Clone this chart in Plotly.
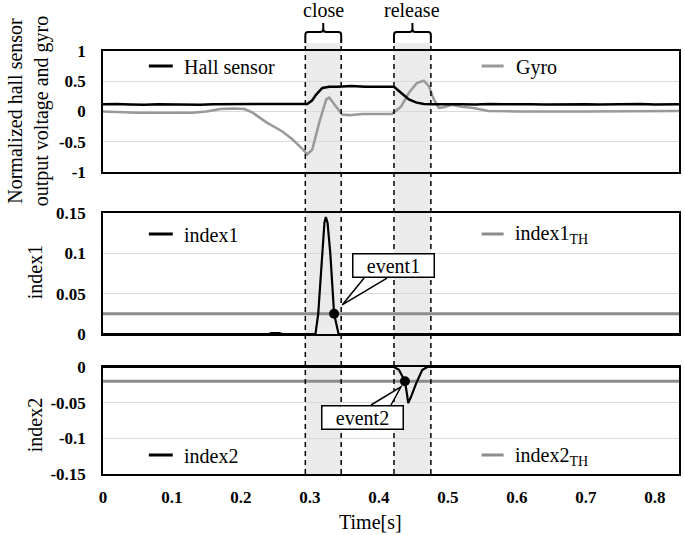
import plotly.graph_objects as go

# ---------------- data ----------------
hall_t = [0.00, 0.02, 0.04, 0.06, 0.08, 0.10, 0.12, 0.14, 0.16, 0.18, 0.20, 0.22, 0.24, 0.26, 0.28,
          0.296, 0.303, 0.309, 0.318, 0.328, 0.34, 0.36, 0.38, 0.40,
          0.4218, 0.432, 0.4435, 0.4536, 0.465,
          0.48, 0.50, 0.52, 0.54, 0.56, 0.58, 0.60, 0.62, 0.64, 0.66, 0.68, 0.70, 0.72, 0.74, 0.76, 0.78, 0.80, 0.82,
          0.835]
hall_v = [0.12, 0.125, 0.115, 0.11, 0.12, 0.115, 0.12, 0.11, 0.12, 0.12, 0.115, 0.12, 0.12, 0.115, 0.12,
          0.125, 0.18, 0.28, 0.39, 0.41, 0.41, 0.42, 0.41, 0.41,
          0.41, 0.31, 0.20, 0.15, 0.125,
          0.12, 0.125, 0.12, 0.115, 0.125, 0.12, 0.125, 0.12, 0.115, 0.12, 0.125, 0.12, 0.115, 0.12, 0.12, 0.125, 0.115, 0.12,
          0.12]

gyro_t = [0.0, 0.02, 0.05, 0.10, 0.13, 0.15, 0.17, 0.19, 0.205, 0.217, 0.237, 0.260, 0.2745, 0.2875,
          0.296, 0.3034, 0.3135, 0.3236, 0.328, 0.338, 0.3467, 0.3568, 0.3756, 0.419, 0.432, 0.4435,
          0.455, 0.465, 0.4724, 0.4796, 0.4868, 0.494, 0.5056, 0.52, 0.5345, 0.559, 0.60, 0.70, 0.80, 0.835]
gyro_v = [0.0, -0.01, -0.02, -0.02, -0.02, 0.0, 0.04, 0.05, 0.04, -0.02, -0.18, -0.33, -0.46, -0.60,
          -0.71, -0.63, -0.18, 0.20, 0.23, 0.08, -0.05, -0.06, -0.04, -0.04, 0.08, 0.31,
          0.47, 0.51, 0.42, 0.20, 0.06, 0.07, 0.11, 0.08, 0.06, 0.01, 0.0, 0.0, 0.01, 0.01]

index1_t = [0, 0.24, 0.244, 0.25, 0.256, 0.26, 0.308, 0.312, 0.3175, 0.321, 0.323, 0.3255, 0.3295, 0.335, 0.3415, 0.835]
index1_v = [0, 0, 0.0012, 0.0015, 0.001, 0, 0, 0.025, 0.1, 0.138, 0.145, 0.138, 0.1, 0.025, 0, 0]
index1_th = 0.025
event1 = (0.335, 0.025)

index2_t = [0, 0.4218, 0.429, 0.434, 0.4377, 0.4405, 0.4425, 0.4465, 0.454, 0.4627, 0.47, 0.835]
index2_v = [0, 0, -0.004, -0.0126, -0.02, -0.037, -0.0505, -0.042, -0.0229, -0.0042, 0, 0]
index2_th = -0.02
event2 = (0.4377, -0.02)

close_span = [0.2933, 0.3453]
release_span = [0.4218, 0.4753]

x_ticks = [0, 0.1, 0.2, 0.3, 0.4, 0.5, 0.6, 0.7, 0.8]
x_ticktext = ["0", "0.1", "0.2", "0.3", "0.4", "0.5", "0.6", "0.7", "0.8"]
y1_ticks = [-1, -0.5, 0, 0.5, 1]
y1_ticktext = ["-1", "-0.5", "0", "0.5", "1"]
y2_ticks = [0, 0.05, 0.1, 0.15]
y2_ticktext = ["0", "0.05", "0.1", "0.15"]
y3_ticks = [-0.15, -0.1, -0.05, 0]
y3_ticktext = ["-0.15", "-0.1", "-0.05", "0"]

# ---------------- style ----------------
FONT = "Liberation Serif, Times New Roman, DejaVu Serif, serif"
BLACK = "#000000"
GRAY = "#8c8c8c"
XMAX = 0.835

fig = go.Figure()

# panel 1
fig.add_trace(go.Scatter(x=gyro_t, y=gyro_v, mode="lines", line=dict(color="#999999", width=2.5),
                         xaxis="x", yaxis="y", showlegend=False))
fig.add_trace(go.Scatter(x=hall_t, y=hall_v, mode="lines", line=dict(color=BLACK, width=2.5),
                         xaxis="x", yaxis="y", showlegend=False))
# panel 2
fig.add_trace(go.Scatter(x=[index1_t[0], index1_t[-1]], y=[index1_th, index1_th], mode="lines",
                         line=dict(color=GRAY, width=3), xaxis="x2", yaxis="y2", showlegend=False))
fig.add_trace(go.Scatter(x=index1_t, y=index1_v, mode="lines", line=dict(color=BLACK, width=2.2),
                         xaxis="x2", yaxis="y2", showlegend=False, cliponaxis=False))
fig.add_trace(go.Scatter(x=[event1[0]], y=[event1[1]], mode="markers",
                         marker=dict(color=BLACK, size=10), xaxis="x2", yaxis="y2", showlegend=False))
# panel 3
fig.add_trace(go.Scatter(x=[index2_t[0], index2_t[-1]], y=[index2_th, index2_th], mode="lines",
                         line=dict(color=GRAY, width=3), xaxis="x3", yaxis="y3", showlegend=False))
fig.add_trace(go.Scatter(x=index2_t, y=index2_v, mode="lines", line=dict(color=BLACK, width=2.2),
                         xaxis="x3", yaxis="y3", showlegend=False, cliponaxis=False))
fig.add_trace(go.Scatter(x=[event2[0]], y=[event2[1]], mode="markers",
                         marker=dict(color=BLACK, size=10), xaxis="x3", yaxis="y3", showlegend=False))

tickfont = dict(family=FONT, size=17, color=BLACK, weight="bold")
common_x = dict(range=[0, XMAX], showgrid=False, zeroline=False, showline=True, linecolor=BLACK,
                linewidth=1.5, mirror=True, ticks="", domain=[0, 1])
common_y = dict(showgrid=True, gridcolor="#d9d9d9", gridwidth=1, zeroline=False, showline=True,
                linecolor=BLACK, linewidth=1.5, mirror=True, ticks="", tickfont=tickfont,
                ticklabelstandoff=12)

fig.update_layout(
    width=685, height=535,
    margin=dict(l=103, r=4, t=51, b=61),
    paper_bgcolor="white", plot_bgcolor="rgba(0,0,0,0)",
    font=dict(family=FONT, color=BLACK, size=20),
    hovermode=False,
    xaxis=dict(common_x, anchor="y", showticklabels=False),
    xaxis2=dict(common_x, anchor="y2", matches="x", showticklabels=False),
    xaxis3=dict(common_x, anchor="y3", matches="x", tickvals=x_ticks, ticktext=x_ticktext,
                tickfont=tickfont, ticklabelstandoff=7),
    yaxis=dict(common_y, domain=[0.714, 1.0], range=[-1, 1], tickvals=y1_ticks, ticktext=y1_ticktext),
    yaxis2=dict(common_y, domain=[0.331, 0.617], range=[0, 0.15], tickvals=y2_ticks, ticktext=y2_ticktext),
    yaxis3=dict(common_y, domain=[0, 0.253], range=[-0.15, 0], tickvals=y3_ticks, ticktext=y3_ticktext),
)

shapes = []
Y_BR_BOT = 1.0189
Y_BR_TOP = 1.0449
Y_BR_TIP = 1.0662
for span in (close_span, release_span):
    x0, x1 = span
    shapes.append(dict(type="rect", xref="x", yref="paper", x0=x0, x1=x1, y0=0, y1=Y_BR_BOT,
                       fillcolor="#ebebeb", line=dict(width=0), layer="below"))
    for xv in span:
        shapes.append(dict(type="line", xref="x", yref="paper", x0=xv, x1=xv, y0=0, y1=Y_BR_BOT,
                           line=dict(color=BLACK, width=1.5, dash="5px,4px"), layer="above"))
    xc = (x0 + x1) / 2
    dx = 0.004
    dy = 0.007
    path = (f"M {x0},{Y_BR_BOT} L {x0},{Y_BR_TOP - dy} Q {x0},{Y_BR_TOP} {x0 + dx},{Y_BR_TOP} "
            f"L {xc - dx},{Y_BR_TOP} Q {xc},{Y_BR_TOP} {xc},{Y_BR_TOP + dy} L {xc},{Y_BR_TIP} "
            f"M {xc},{Y_BR_TOP + dy} Q {xc},{Y_BR_TOP} {xc + dx},{Y_BR_TOP} "
            f"L {x1 - dx},{Y_BR_TOP} Q {x1},{Y_BR_TOP} {x1},{Y_BR_TOP - dy} L {x1},{Y_BR_BOT}")
    shapes.append(dict(type="path", xref="x", yref="paper", path=path,
                       line=dict(color=BLACK, width=2)))

# callout wedges
shapes.append(dict(type="path", xref="x2", yref="y2",
                   path="M 0.3785,0.0694 L 0.3467,0.036 L 0.4117,0.0694",
                   fillcolor="white", line=dict(color=BLACK, width=1.5)))
shapes.append(dict(type="path", xref="x3", yref="y3",
                   path="M 0.3886,-0.0533 L 0.4319,-0.028 L 0.4175,-0.0533",
                   fillcolor="white", line=dict(color=BLACK, width=1.5)))

def px2paper_x(px):
    return (px - 103) / 578

def px2paper_y(py):
    return (474 - py) / 423

legend_items = [
    ("Hall sensor", BLACK, 149, 173, 182, 66),
    ("Gyro", "#999999", 483, 505, 515, 66),
    ("index1", BLACK, 149, 173, 182, 234),
    ("index1<sub>TH</sub>", GRAY, 483, 505, 514, 234),
    ("index2", BLACK, 149, 173, 182, 455),
    ("index2<sub>TH</sub>", GRAY, 483, 505, 514, 455),
]
annotations = []
for text, col, lx0, lx1, tx, ly in legend_items:
    shapes.append(dict(type="line", xref="paper", yref="paper", x0=px2paper_x(lx0), x1=px2paper_x(lx1),
                       y0=px2paper_y(ly), y1=px2paper_y(ly), line=dict(color=col, width=3)))
    annotations.append(dict(text=text, xref="paper", yref="paper", x=px2paper_x(tx), y=px2paper_y(ly + 1),
                            xanchor="left", yanchor="middle", showarrow=False,
                            font=dict(family=FONT, size=20, color=BLACK)))

annotations.append(dict(text="close", xref="x", yref="paper", x=sum(close_span) / 2, y=1.097,
                        showarrow=False, xanchor="center", yanchor="middle", font=dict(family=FONT, size=20)))
annotations.append(dict(text="release", xref="x", yref="paper", x=sum(release_span) / 2, y=1.097,
                        showarrow=False, xanchor="center", yanchor="middle", font=dict(family=FONT, size=20)))

annotations.append(dict(text="event1", xref="x2", yref="y2", x=0.4218, y=0.0849, showarrow=False,
                        bgcolor="white", bordercolor=BLACK, borderwidth=1.5, borderpad=0,
                        width=80, height=22, font=dict(family=FONT, size=20)))
annotations.append(dict(text="event2", xref="x3", yref="y3", x=0.3756, y=-0.0708, showarrow=False,
                        bgcolor="white", bordercolor=BLACK, borderwidth=1.5, borderpad=0,
                        width=80, height=22, font=dict(family=FONT, size=20)))

annotations.append(dict(text="Normalized hall sensor<br>output voltage and gyro", xref="paper", yref="paper",
                        x=px2paper_x(28), y=px2paper_y(111), textangle=-90, showarrow=False,
                        xanchor="center", yanchor="middle", font=dict(family=FONT, size=20)))
annotations.append(dict(text="index1", xref="paper", yref="paper", x=px2paper_x(35), y=px2paper_y(272),
                        textangle=-90, showarrow=False, xanchor="center", yanchor="middle",
                        font=dict(family=FONT, size=20)))
annotations.append(dict(text="index2", xref="paper", yref="paper", x=px2paper_x(35), y=px2paper_y(425),
                        textangle=-90, showarrow=False, xanchor="center", yanchor="middle",
                        font=dict(family=FONT, size=20)))
annotations.append(dict(text="Time[s]", xref="paper", yref="paper", x=px2paper_x(371), y=px2paper_y(522),
                        showarrow=False, xanchor="center", yanchor="middle", font=dict(family=FONT, size=20)))

fig.update_layout(shapes=shapes, annotations=annotations)
fig.write_html("out.html", config={"displayModeBar": False},
               post_script="document.body.style.margin='0';document.body.style.padding='0';")
